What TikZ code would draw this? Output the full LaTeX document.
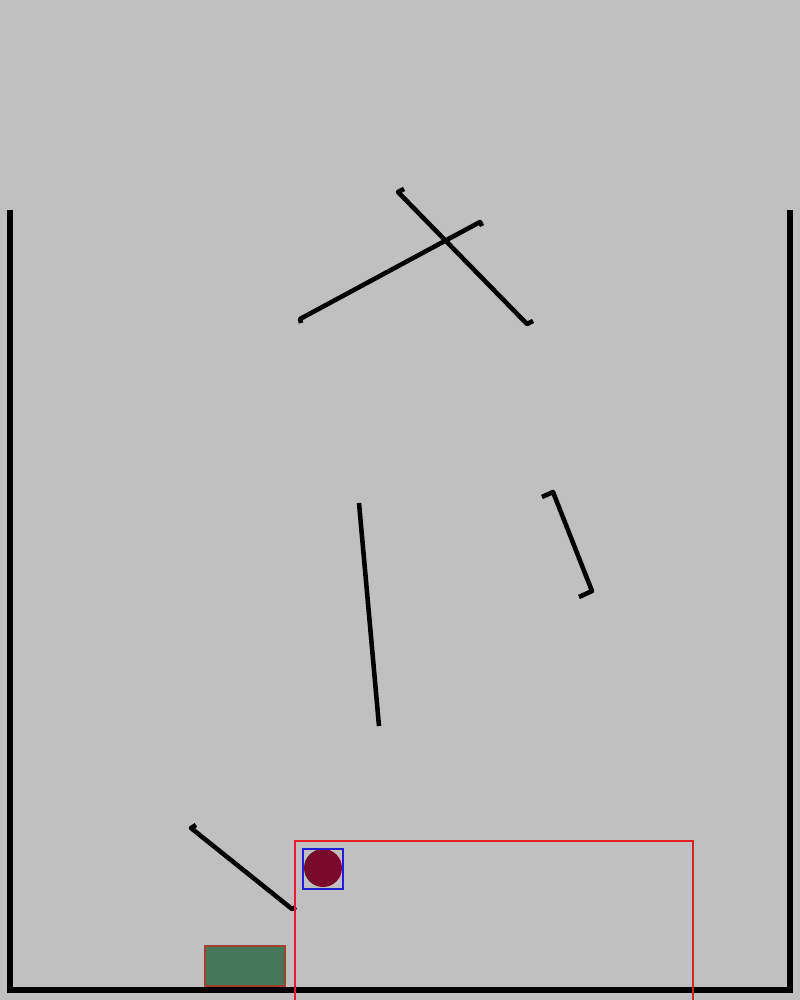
\documentclass[tikz,border=0pt]{standalone}
\usepackage{xcolor}
\usepackage{tikz}
\usetikzlibrary{positioning}
\definecolor{bggray}{HTML}{C0C0C0}
\definecolor{ballred}{HTML}{780A2C}
\definecolor{goalgreen}{HTML}{467758}
\definecolor{goaledge}{HTML}{A0402F}
\definecolor{zonered}{HTML}{E02020}
\definecolor{boxblue}{HTML}{2020D0}

\begin{document}
\begin{tikzpicture}[
  x=0.02cm, y=-0.02cm,
  wall/.style={draw=black, line width=3pt, line join=miter},
  plank/.style={draw=black, line width=2.6pt, line join=round},
  ball/.style={circle, fill=ballred, minimum size=0.76cm, inner sep=0pt},
  bbox/.style={draw=boxblue, line width=0.6pt},
  zone/.style={draw=zonered, line width=0.6pt},
  goal/.style={draw=goaledge, fill=goalgreen, line width=1.2pt}
]

% Background
\fill[bggray] (0,0) rectangle (800,1000);
\useasboundingbox (0,0) rectangle (800,1000);

% Container
\draw[wall] (10,210) -- (10,990) -- (790,990) -- (790,210);

% Planks
\draw[plank] (301,323) -- (300,319) -- (480,222) -- (482,226);
\draw[plank] (404,189) -- (398,192) -- (527,324) -- (533,321);
\draw[plank] (542,497) -- (553,492) -- (592,591) -- (579,597);
\draw[plank] (359,503) -- (379,726);
\draw[plank] (196,825) -- (191,828) -- (292,909) -- (296,907);

% Goal
\draw[goal] (205,946) rectangle (285,986);

% Ball and its box
\node[ball] (ball) at (323,868) {};
\draw[bbox] (303,849) rectangle (343,889);

% Zone
\draw[zone] (295,1000) -- (295,841) -- (693,841) -- (693,1000);

\end{tikzpicture}
\end{document}
